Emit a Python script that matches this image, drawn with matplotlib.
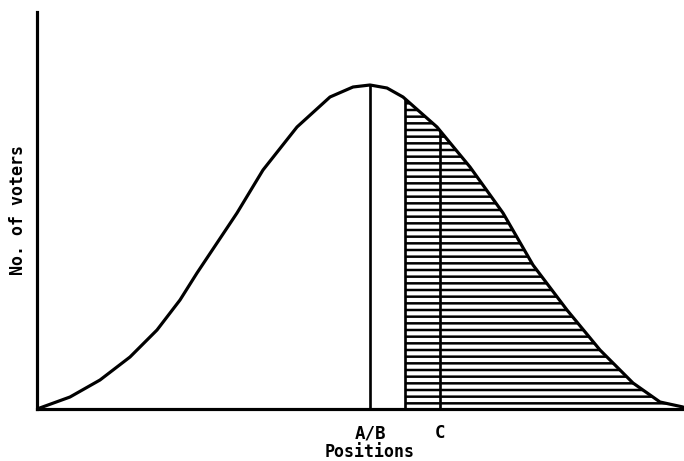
import matplotlib.pyplot as plt
import numpy as np

# positions along the issue axis and number of voters at each
positions = [0, 33, 63, 93, 120, 143, 160, 180, 200, 226, 260, 293, 316, 333,
             350, 366, 400, 433, 466, 496, 530, 563, 596, 623, 646]
voters = [0, 12, 29, 52, 79, 109, 136, 166, 196, 239, 282, 312, 322, 324,
          321, 312, 282, 242, 196, 144, 99, 59, 26, 7, 2]

pos_ab = 333      # candidates A and B
pos_c = 403       # candidate C
shade_from = 368  # C's share starts midway between A/B and C

tick_pos = [pos_ab, pos_c]
tick_labels = ["A/B", "C"]

plt.rcParams["hatch.linewidth"] = 1.5
font = "DejaVu Sans Mono"

fig = plt.figure(figsize=(5.7, 461 / 120), dpi=120)
ax = fig.add_axes([37 / 684, 1 - 409 / 461, 1 - 37 / 684, (409 - 12) / 461])

x = np.array(positions, dtype=float)
y = np.array(voters, dtype=float)

# shaded part of the curve (C's voters)
y_start = np.interp(shade_from, x, y)
mask = x > shade_from
xs = np.concatenate([[shade_from], x[mask]])
ys = np.concatenate([[y_start], y[mask]])
ax.fill_between(xs, 0, ys, facecolor="white", edgecolor="black",
                hatch="---", linewidth=0)

ax.plot(x, y, color="black", lw=1.9, solid_joinstyle="round", solid_capstyle="round")

ax.vlines(pos_ab, 0, np.interp(pos_ab, x, y), color="black", lw=1.6)
ax.vlines(shade_from, 0, y_start, color="black", lw=1.6)
ax.vlines(pos_c, 0, np.interp(pos_c, x, y), color="black", lw=1.6)

ax.set_xlim(0, 647)
ax.set_ylim(0, 397)

for side in ["top", "right"]:
    ax.spines[side].set_visible(False)
for side in ["left", "bottom"]:
    ax.spines[side].set_linewidth(1.9)

ax.set_yticks([])
ax.set_xticks(tick_pos)
ax.set_xticklabels(tick_labels, fontsize=10.5, fontweight="bold", family=font)
ax.tick_params(axis="x", length=0, pad=9)
ax.set_xlabel("Positions", fontsize=10, fontweight="bold", family=font)
ax.xaxis.set_label_coords((370 - 37) / 647, -0.085, transform=ax.transAxes)

fig.text(18 / 684, 1 - 210 / 461, "No. of voters", rotation=90, ha="center", va="center",
         fontsize=10, fontweight="bold", family=font)

fig.savefig("out.png", dpi=120)
